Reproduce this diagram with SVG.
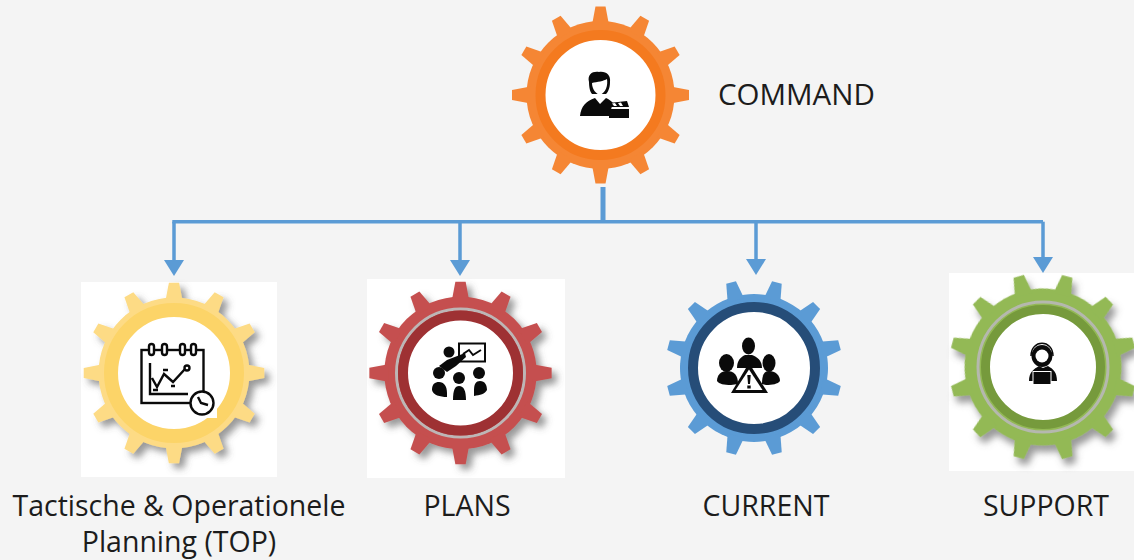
<svg xmlns="http://www.w3.org/2000/svg" width="1134" height="560" viewBox="0 0 1134 560">
<style>
.lbl{font-family:"Open Sans","Noto Sans","Liberation Sans",sans-serif;font-size:28.500px;fill:#1c1c1c}
.conn{fill:none;stroke:#5b9bd5;stroke-width:3.500}
.ic{fill:#0a0a0a}
.icl{fill:none;stroke:#0a0a0a;stroke-width:2.400}
.w{fill:#fff}
</style>
<defs>
<filter id="sh" x="-15%" y="-15%" width="135%" height="135%"><feDropShadow dx="5" dy="5" stdDeviation="3.500" flood-color="#555" flood-opacity=".6"/></filter>
<marker id="ah" viewBox="0 0 16 20" refX="1" refY="10" markerWidth="16" markerHeight="20" markerUnits="userSpaceOnUse" orient="auto"><path d="M0 0L16 10L0 20Z" fill="#5b9bd5"/></marker>
<g id="gear0">
<circle r="74"/>
<path id="t" d="M-8.500-70L-5-88.500H5L8.500-70Z"/>
<use href="#t" transform="rotate(30)"/><use href="#t" transform="rotate(60)"/><use href="#t" transform="rotate(90)"/><use href="#t" transform="rotate(120)"/><use href="#t" transform="rotate(150)"/><use href="#t" transform="rotate(180)"/><use href="#t" transform="rotate(210)"/><use href="#t" transform="rotate(240)"/><use href="#t" transform="rotate(270)"/><use href="#t" transform="rotate(300)"/><use href="#t" transform="rotate(330)"/>
</g>
</defs>
<rect width="1134" height="560" fill="#f4f4f4"/>
<g id="connectors">
<path class="conn" d="M603 187V221" style="stroke-width:5"/>
<path class="conn" d="M172.300 221.700H1043"/>
<path class="conn" d="M174 221.700V261" marker-end="url(#ah)"/>
<path class="conn" d="M460 221.700V261" marker-end="url(#ah)"/>
<path class="conn" d="M756 221.700V260" marker-end="url(#ah)"/>
<path class="conn" d="M1043 221.700V258" marker-end="url(#ah)"/>
</g>
<g id="command">
<use href="#gear0" transform="translate(600.500 95)" fill="#f58634"/>
<circle cx="600.500" cy="95" r="60" fill="#fff" stroke="#f47a1f" stroke-width="10"/>
<rect class="w" x="570" y="62" width="66" height="65"/>
<path class="ic" d="M589 82C587 74 593 71 599 72C606 71 611 75 610 82C610 88 608 92 606 94H592C590 92 589 87 589 82Z"/>
<path class="w" d="M592 83C597 82 604 81 607 79C608 86 606 92 600 95C596 94 592 89 592 83Z"/>
<path class="ic" d="M580 116C581 106 586 101 595 98L600 104L606 98C609 99 611 101 613 103L609 116Z"/>
<path class="ic" d="M609 109H629V118H609ZM609 103L627 101L629 107H609Z"/>
<path class="w" d="M612 103.500L615 103L617 106H614ZM618 103L621 102.500L623 106H620Z"/>
<text class="lbl" x="718" y="105" style="font-size:29.500px">COMMAND</text>
</g>
<g id="top">
<rect class="w" x="81" y="282" width="196" height="195"/>
<use href="#gear0" transform="translate(174 373) scale(1.020)" fill="#fddb85" filter="url(#sh)"/>
<circle cx="174" cy="373" r="63" fill="#fff" stroke="#fcd468" stroke-width="14"/>
<rect class="w" x="170" y="360" width="47" height="58"/>
<g class="icl">
<rect x="141.500" y="350" width="62" height="53"/>
<path d="M150 363V394H188M152 378L157 387L164 374L173 382L185 369"/>
<circle cx="187" cy="368" r="2.500"/>
<path d="M153 390H158M163 370H168M171 386H175"/>
<rect x="149" y="344" width="5" height="11" rx="2.500" fill="#fff"/><rect x="162" y="344" width="5" height="11" rx="2.500" fill="#fff"/><rect x="180" y="344" width="5" height="11" rx="2.500" fill="#fff"/><rect x="191" y="344" width="5" height="11" rx="2.500" fill="#fff"/>
<circle cx="202" cy="403" r="11.500" fill="#fff"/>
<path d="M198 397L201 403L208 405"/>
</g>
<text class="lbl" text-anchor="middle" x="179" y="516">Tactische &amp; Operationele</text>
<text class="lbl" text-anchor="middle" x="179" y="552">Planning (TOP)</text>
</g>
<g id="plans">
<rect class="w" x="367" y="279" width="198" height="199"/>
<use href="#gear0" transform="translate(460.500 373) scale(1.030)" fill="#c5504f" filter="url(#sh)"/>
<circle cx="460.500" cy="373" r="64" fill="none" stroke="#bdb6b6" stroke-width="3"/>
<circle cx="460.500" cy="373" r="57.500" fill="#fff" stroke="#9e3133" stroke-width="10"/>
<g>
<rect class="icl" x="459" y="343.500" width="26" height="18" style="stroke-width:2"/>
<path class="icl" d="M463 354L469 350L473 355L481 350" style="stroke-width:2"/>
<circle class="ic" cx="449" cy="352" r="5.500"/>
<path class="ic" d="M439 366L447 360L465 353L466 357L456 366L447 372Z"/>
<circle class="ic" cx="439" cy="373" r="6"/><circle class="ic" cx="459" cy="378" r="6"/><circle class="ic" cx="479" cy="373" r="6"/>
<path class="ic" d="M432 390C432 384 435 382 439 382C444 382 447 386 447 393V397C440 397 433 395 432 390ZM453 400C453 390 455 386 459 386C464 386 466 391 466 400ZM474 396V390C474 384 476 381 480 381C485 381 487 385 487 390C485 394 480 395 474 396Z"/>
</g>
<text class="lbl" text-anchor="middle" x="467" y="516">PLANS</text>
</g>
<g id="current">
<use href="#gear0" transform="translate(754 368) rotate(15)" fill="#5b9bd5"/>
<circle cx="754" cy="368" r="61" fill="#fff" stroke="#264d78" stroke-width="10"/>
<ellipse class="ic" cx="726.500" cy="363" rx="7.500" ry="9"/>
<path class="ic" d="M717 381C717 375 721 371 727 371C734 371 738 375 738 384L731 385C724 385 719 384 717 381Z"/>
<ellipse class="ic" cx="769" cy="363" rx="6.500" ry="9"/>
<path class="ic" d="M762 384C762 375 764 371 769 371C775 371 780 375 780 381C778 384 772 385 766 385Z"/>
<ellipse class="ic" cx="748.500" cy="346" rx="6.500" ry="8.500"/>
<path class="ic" d="M737 368C737 360 741 357 745 355H752C757 357 762 360 762 368Z"/>
<path class="ic" d="M749 363L768 393H731Z"/>
<path class="w" d="M749 369.500L762.500 390H735.500Z"/>
<path class="ic" d="M747.300 375H750.700L750 384H748ZM747.300 385.500H750.700V388.500H747.300Z"/>
<text class="lbl" text-anchor="middle" x="766" y="516">CURRENT</text>
</g>
<g id="support">
<rect class="w" x="949" y="273" width="185" height="198"/>
<use href="#gear0" transform="translate(1043 367) rotate(15) scale(1.060)" fill="#93b955" filter="url(#sh)"/>
<circle cx="1043" cy="367" r="65" fill="none" stroke="#b5b8ae" stroke-width="3"/>
<circle cx="1043" cy="367" r="57.500" fill="#fff" stroke="#769a3c" stroke-width="9"/>
<path class="icl" d="M1031 356C1031 339 1053 339 1053 356" style="stroke-width:1.500"/>
<ellipse class="ic" cx="1042" cy="356" rx="10.500" ry="11"/>
<ellipse class="w" cx="1042" cy="356" rx="6.500" ry="6.500"/>
<path class="ic" d="M1029 381C1029 372 1034 369 1039 366L1043 368L1048 366C1053 369 1057 372 1057 381Z"/>
<rect class="ic" x="1033" y="371.500" width="18" height="13" stroke="#fff" stroke-width="1"/>
<text class="lbl" text-anchor="middle" x="1046" y="516">SUPPORT</text>
</g>
</svg>
